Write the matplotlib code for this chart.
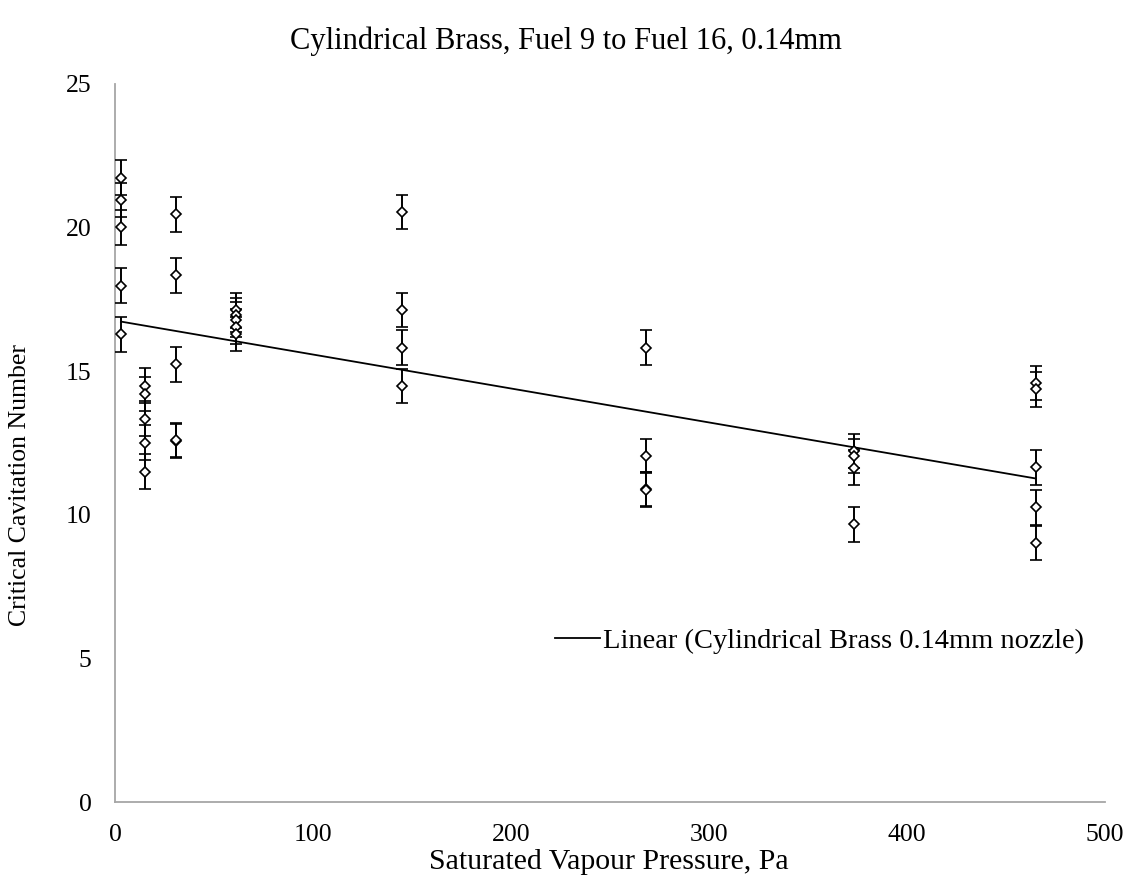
import numpy as np
import matplotlib
matplotlib.use("Agg")
import matplotlib.pyplot as plt

# Data (saturated vapour pressure, Pa  ->  critical cavitation number)
pressure = [3, 3, 3, 3, 3,
            15, 15, 15, 15, 15,
            31, 31, 31, 31, 31,
            61, 61, 61, 61, 61,
            145, 145, 145, 145,
            268, 268, 268, 268,
            373, 373, 373, 373,
            465, 465, 465, 465, 465]
cav_number = [21.74, 20.96, 20.01, 17.98, 16.28,
              14.50, 14.21, 13.35, 12.51, 11.50,
              20.46, 18.34, 15.24, 12.57, 12.60,
              17.12, 16.95, 16.80, 16.55, 16.30,
              20.55, 17.14, 15.82, 14.48,
              15.82, 12.05, 10.90, 10.88,
              12.22, 12.05, 11.64, 9.67,
              14.58, 14.37, 11.65, 10.26, 9.01]
error = 0.6

title = "Cylindrical Brass, Fuel 9 to Fuel 16, 0.14mm"
xlabel = "Saturated Vapour Pressure, Pa"
ylabel = "Critical Cavitation Number"
legend_label = "Linear (Cylindrical Brass 0.14mm nozzle)"
xticks = [0, 100, 200, 300, 400, 500]
yticks = [0, 5, 10, 15, 20, 25]

plt.rcParams['font.family'] = ['Liberation Serif', 'DejaVu Serif']

fig = plt.figure(figsize=(11.32, 8.88), dpi=100)
ax = fig.add_axes([115/1132, 86/888, 990/1132, 718/888])

x = np.array(pressure, dtype=float)
y = np.array(cav_number, dtype=float)

ax.errorbar(x, y, yerr=error, fmt='D', ms=4.6, mfc='white', mec='black', mew=1.2,
            ecolor='black', elinewidth=1.4, capsize=4.2, capthick=1.4, zorder=3)

slope, intercept = np.polyfit(x, y, 1)
xf = np.array([x.min(), x.max()])
ax.plot(xf, intercept + slope * xf, color='black', lw=1.3, label=legend_label, zorder=2)

ax.set_xlim(0, 500)
ax.set_ylim(0, 25)
ax.set_xticks(xticks)
ax.set_yticks(yticks)
ax.tick_params(axis='both', length=0, labelsize=18.5)
ax.tick_params(axis='x', pad=15.5)
ax.tick_params(axis='y', pad=17)
for s in ['top', 'right']:
    ax.spines[s].set_visible(False)
for s in ['left', 'bottom']:
    ax.spines[s].set_color('#A6A6A6')
    ax.spines[s].set_linewidth(1.3)

leg = ax.legend(loc='center left', bbox_to_anchor=(440/990, 1 - (641 - 84)/718),
                frameon=False, fontsize=20.5, handlelength=1.58, handletextpad=0.1,
                borderaxespad=0, borderpad=0)

fig.text(0.5, 1 - 41/888, title, ha='center', va='center', fontsize=22)
fig.text(609/1132, 1 - 862/888, xlabel, ha='center', va='center', fontsize=21.5)
fig.text(20/1132, 1 - 485/888, ylabel, ha='center', va='center', rotation=90, fontsize=18.5)

fig.savefig("out.png", dpi=100)
